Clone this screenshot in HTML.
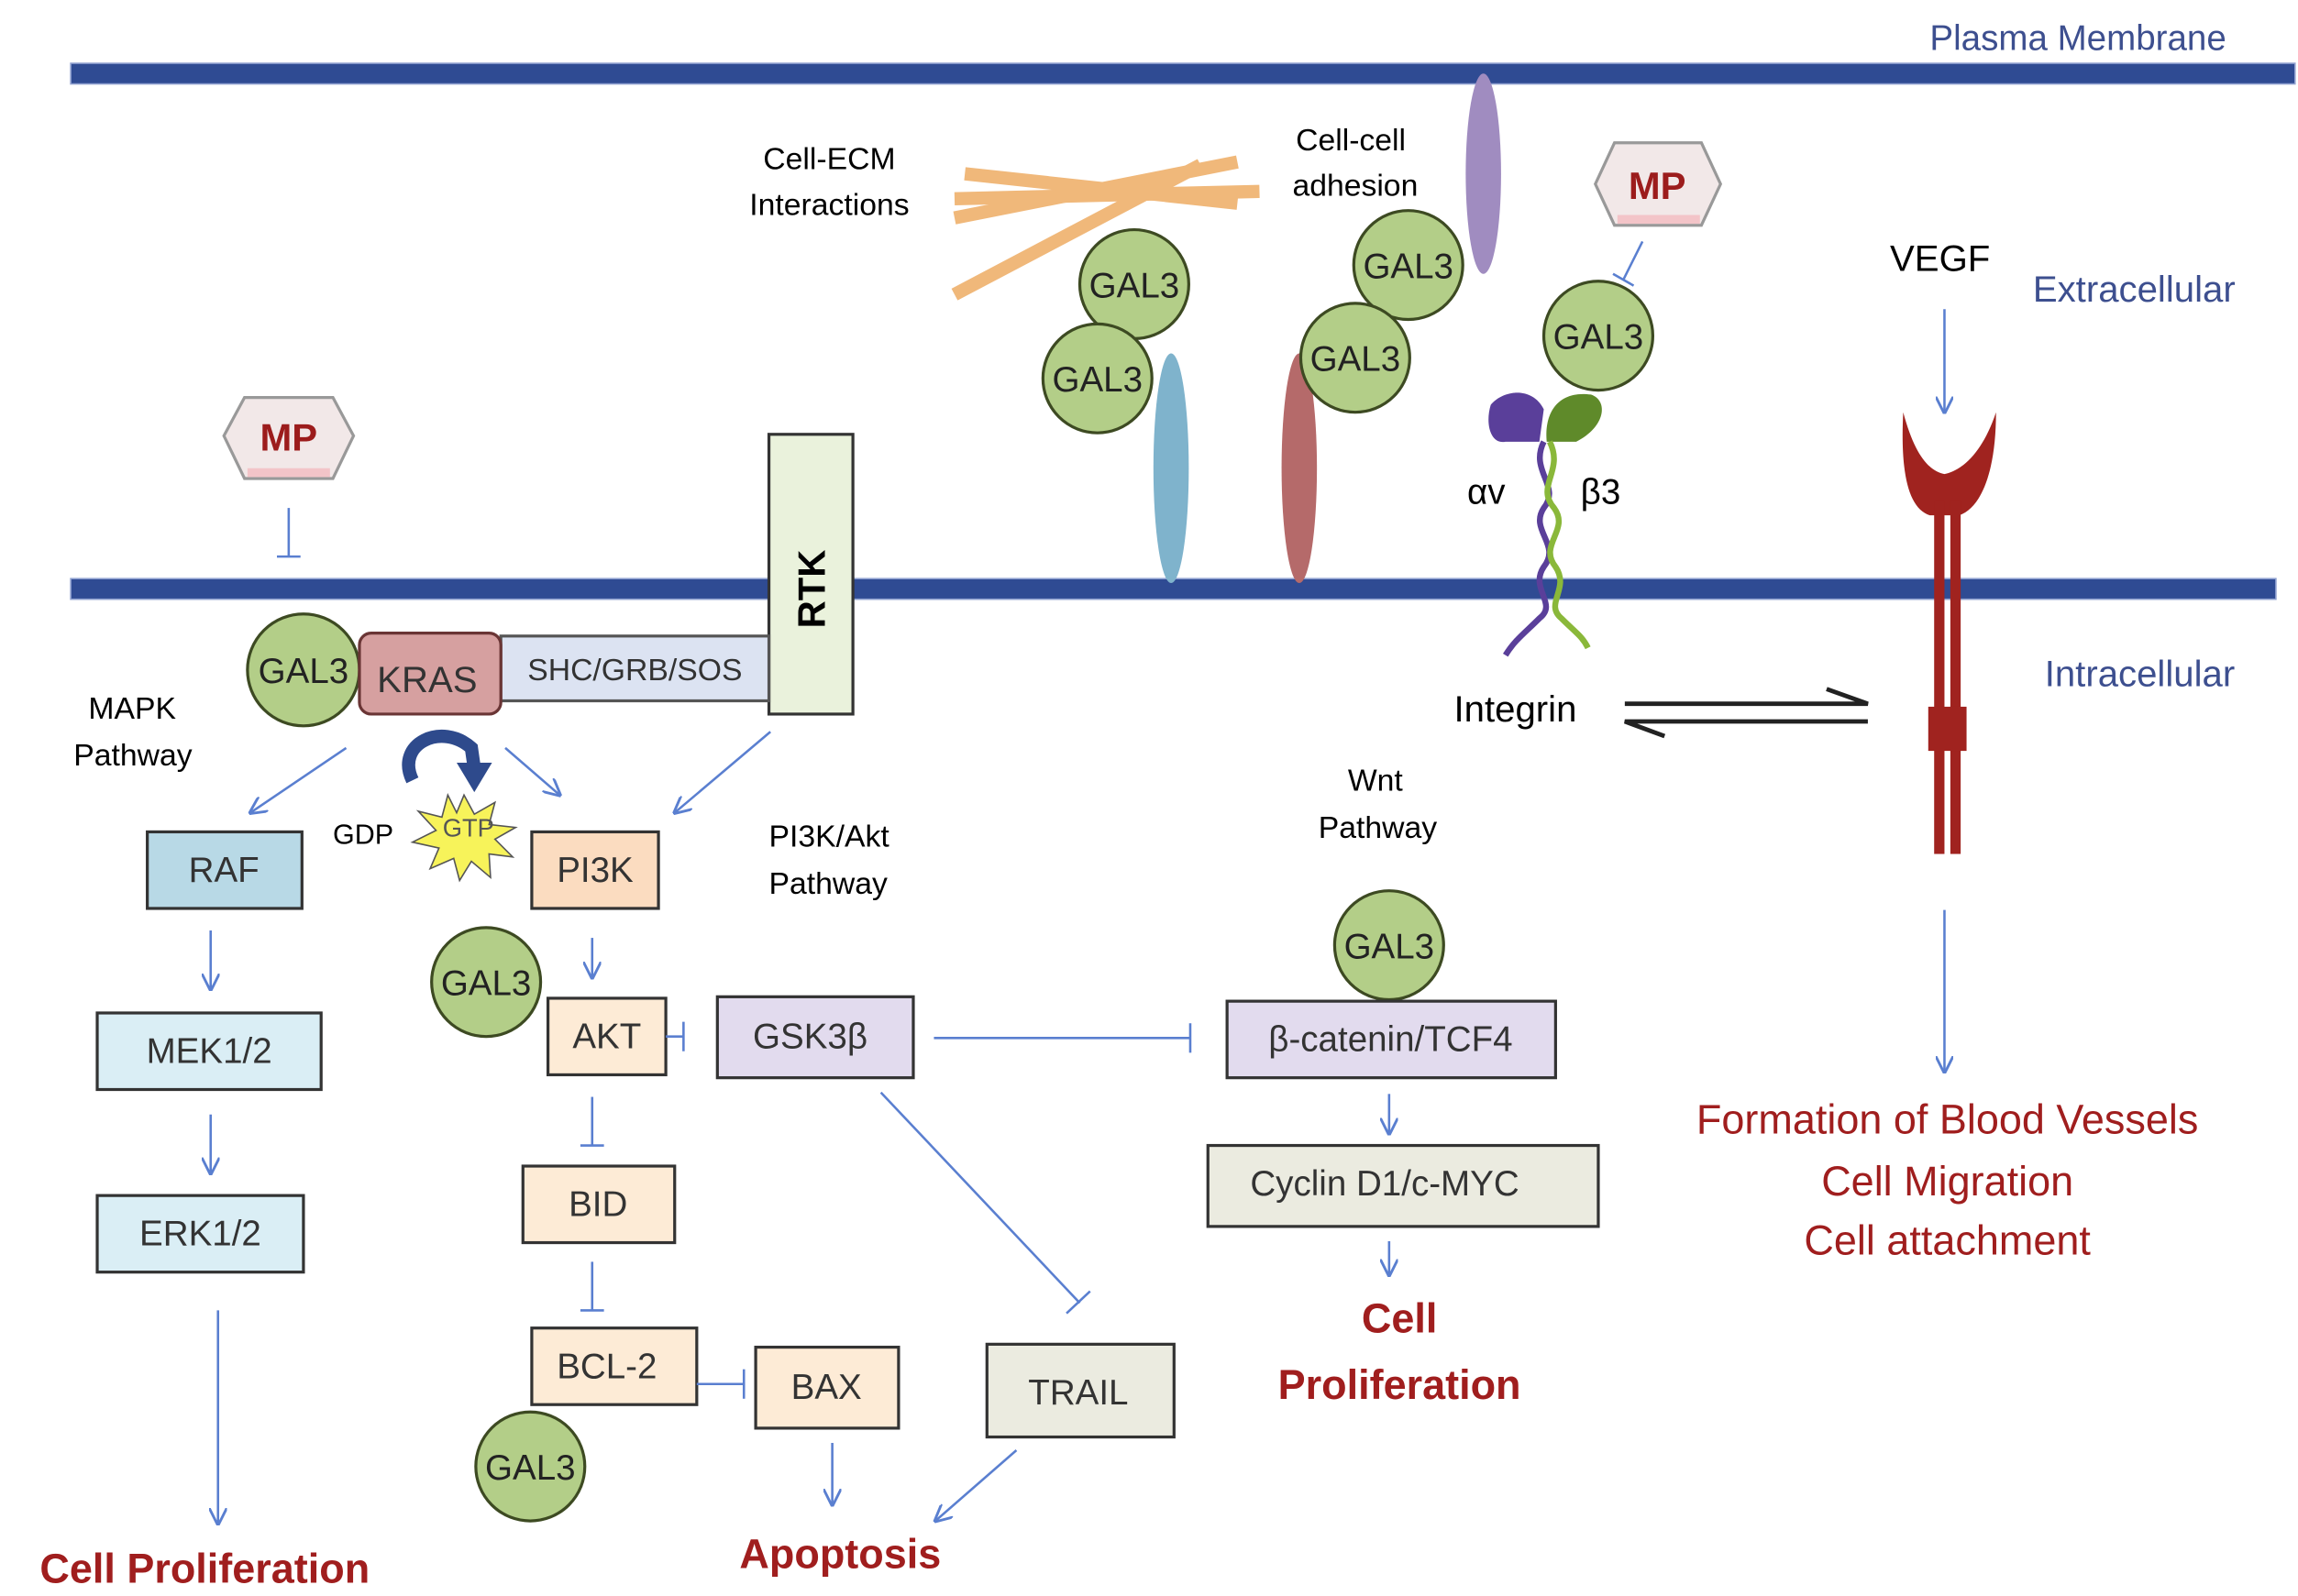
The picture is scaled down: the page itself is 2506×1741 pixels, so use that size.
<!DOCTYPE html>
<html><head><meta charset="utf-8"><style>
html,body{margin:0;padding:0;background:#fff;}
svg{display:block;}
text{font-family:"Liberation Sans",sans-serif;}
</style></head><body>
<svg width="2506" height="1741" viewBox="0 0 1560 1084" preserveAspectRatio="none" xmlns="http://www.w3.org/2000/svg">
<defs>
<marker id="ar" viewBox="0 0 10 10" refX="9" refY="5" markerWidth="12" markerHeight="12" markerUnits="userSpaceOnUse" orient="auto"><path d="M0,0 L10,5 L0,10" fill="none" stroke="#5a7fd0" stroke-width="1.5"/></marker>
</defs>
<!-- membranes -->
<rect x="48" y="43" width="1510" height="14" fill="#2f4b93" stroke="#8fa0d0" stroke-width="1"/>
<rect x="48" y="393" width="1497" height="14" fill="#2f4b93" stroke="#8fa0d0" stroke-width="1"/>
<text x="1310" y="34" font-size="24" fill="#3d4f8f">Plasma Membrane</text>
<text x="1380" y="205" font-size="25" fill="#3d4f8f">Extracellular</text>
<text x="1388" y="466" font-size="25" fill="#3d4f8f">Intracellular</text>

<!-- ECM fibers -->
<g stroke="#f0b87a" stroke-width="9" stroke-linecap="butt">
<line x1="648" y1="135" x2="855" y2="130"/>
<line x1="648" y1="148" x2="840" y2="110"/>
<line x1="655" y1="118" x2="840" y2="138"/>
<line x1="648" y1="200" x2="815" y2="112"/>
</g>
<text x="563" y="115" font-size="21" text-anchor="middle">Cell-ECM</text>
<text x="563" y="146" font-size="21" text-anchor="middle">Interactions</text>
<text x="917" y="102" font-size="21" text-anchor="middle">Cell-cell</text>
<text x="920" y="133" font-size="21" text-anchor="middle">adhesion</text>

<!-- ellipses -->
<ellipse cx="1007" cy="118" rx="12" ry="68" fill="#a08cc0"/>
<ellipse cx="795" cy="318" rx="12" ry="78" fill="#7fb3cc"/>
<ellipse cx="882" cy="318" rx="12" ry="78" fill="#b56a6a"/>

<!-- GAL3 circles -->
<g fill="#b3ce88" stroke="#3d4a22" stroke-width="2">
<circle cx="770" cy="193" r="37"/>
<circle cx="745" cy="257" r="37"/>
<circle cx="956" cy="180" r="37"/>
<circle cx="920" cy="243" r="37"/>
<circle cx="1085" cy="228" r="37"/>
<circle cx="206" cy="455" r="38"/>
<circle cx="330" cy="667" r="37"/>
<circle cx="360" cy="996" r="37"/>
<circle cx="943" cy="642" r="37"/>
</g>
<g font-size="24" fill="#222" text-anchor="middle">
<text x="770" y="202">GAL3</text>
<text x="745" y="266">GAL3</text>
<text x="956" y="189">GAL3</text>
<text x="920" y="252">GAL3</text>
<text x="1085" y="237">GAL3</text>
<text x="206" y="464">GAL3</text>
<text x="330" y="676">GAL3</text>
<text x="360" y="1005">GAL3</text>
<text x="943" y="651">GAL3</text>
</g>

<!-- MP hexagons -->
<g fill="#f2e8e8" stroke="#999" stroke-width="2">
<polygon points="166,270 226,270 240,296 226,325 166,325 152,296"/>
<polygon points="1096,97 1155,97 1168,125 1155,153 1096,153 1083,125"/>
</g>
<rect x="168" y="318" width="56" height="6" fill="#f3c4c8"/>
<rect x="1098" y="146" width="56" height="6" fill="#f3c4c8"/>
<text x="196" y="306" font-size="26" font-weight="bold" fill="#9c1c1c" text-anchor="middle">MP</text>
<text x="1125" y="135" font-size="26" font-weight="bold" fill="#9c1c1c" text-anchor="middle">MP</text>
<g stroke="#5a7fd0" stroke-width="1.6" fill="none">
<line x1="196" y1="345" x2="196" y2="378"/><line x1="188" y1="378" x2="204" y2="378"/>
<line x1="1115" y1="164" x2="1102" y2="190"/><line x1="1095" y1="186" x2="1109" y2="194"/>
</g>

<!-- integrin -->
<path d="M1048,278 C1040,262 1020,265 1012,275 C1008,288 1012,302 1022,300 L1045,300 Z" fill="#5a3f9a"/>
<path d="M1050,300 C1048,280 1058,265 1080,268 C1092,272 1090,290 1070,300 Z" fill="#5f8a2a"/>
<path d="M1048,300 C1038,320 1060,330 1048,345 C1038,360 1060,370 1048,385 C1038,400 1058,410 1045,420 C1035,430 1028,435 1022,445" fill="none" stroke="#5a3f9a" stroke-width="4"/>
<path d="M1052,300 C1062,320 1042,330 1055,345 C1066,360 1044,370 1056,385 C1066,400 1048,410 1060,420 C1070,430 1074,432 1078,440" fill="none" stroke="#8ab83a" stroke-width="4"/>
<text x="996" y="342" font-size="24">αv</text>
<text x="1073" y="342" font-size="24">β3</text>
<text x="987" y="490" font-size="25">Integrin</text>
<!-- harpoons -->
<g stroke="#222" stroke-width="3" fill="none">
<path d="M1103,478 L1268,478 L1240,468"/>
<path d="M1268,490 L1103,490 L1130,500"/>
</g>

<!-- VEGF receptor -->
<text x="1283" y="184" font-size="25">VEGF</text>
<line x1="1320" y1="210" x2="1320" y2="280" stroke="#5a7fd0" stroke-width="1.6" marker-end="url(#ar)"/>
<path d="M1292,280 C1300,310 1310,320 1320,322 C1330,320 1345,310 1355,280 C1355,320 1345,345 1330,350 L1310,350 C1295,345 1290,320 1292,280 Z" fill="#a0231f"/>
<rect x="1313" y="340" width="7" height="240" fill="#a0231f"/>
<rect x="1324" y="340" width="7" height="240" fill="#a0231f"/>
<rect x="1309" y="480" width="26" height="30" fill="#a0231f"/>
<line x1="1320" y1="618" x2="1320" y2="728" stroke="#5a7fd0" stroke-width="1.6" marker-end="url(#ar)"/>
<g font-size="28" fill="#a01e1e" text-anchor="middle">
<text x="1322" y="770">Formation of Blood  Vessels</text>
<text x="1322" y="812">Cell Migration</text>
<text x="1322" y="852">Cell attachment</text>
</g>

<!-- RTK complex -->
<rect x="522" y="295" width="57" height="190" fill="#eaf2dc" stroke="#333" stroke-width="2"/>
<text transform="translate(560,400) rotate(-90)" font-size="26" font-weight="bold" text-anchor="middle">RTK</text>
<rect x="340" y="432" width="182" height="44" fill="#dce3f2" stroke="#555" stroke-width="2"/>
<text x="431" y="462" font-size="21" fill="#333" text-anchor="middle">SHC/GRB/SOS</text>
<rect x="244" y="430" width="96" height="55" rx="8" fill="#d6a0a0" stroke="#6a3535" stroke-width="2"/>
<text x="290" y="470" font-size="25" fill="#333" text-anchor="middle">KRAS</text>
<text x="60" y="488" font-size="21">MAPK</text>
<text x="50" y="520" font-size="21">Pathway</text>

<g stroke="#5a7fd0" stroke-width="1.6" fill="none" marker-end="url(#ar)">
<line x1="235" y1="508" x2="170" y2="552"/>
<line x1="343" y1="508" x2="380" y2="540"/>
<line x1="523" y1="497" x2="458" y2="552"/>
<line x1="143" y1="632" x2="143" y2="672"/>
<line x1="143" y1="757" x2="143" y2="797"/>
<line x1="148" y1="890" x2="148" y2="1035"/>
<line x1="402" y1="637" x2="402" y2="664"/>
<line x1="565" y1="980" x2="565" y2="1022"/>
<line x1="690" y1="985" x2="635" y2="1033"/>
<line x1="943" y1="743" x2="943" y2="770"/>
<line x1="943" y1="843" x2="943" y2="866"/>
</g>
<!-- curved arrow -->
<path d="M280,530 C268,505 300,490 320,508 L322,522" fill="none" stroke="#2e4a8c" stroke-width="9"/>
<polygon points="310,518 334,518 322,538" fill="#2e4a8c"/>
<!-- GTP star -->
<polygon points="315,540 322,553 336,545 332,560 350,562 336,570 348,582 332,580 333,596 320,585 312,598 308,583 292,590 298,576 280,572 296,564 284,551 300,555 304,540 310,552" fill="#f7f35a" stroke="#555" stroke-width="1"/>
<text x="318" y="568" font-size="17" fill="#555" text-anchor="middle">GTP</text>
<text x="226" y="573" font-size="19">GDP</text>

<!-- boxes -->
<g stroke="#333" stroke-width="2">
<rect x="100" y="565" width="105" height="52" fill="#b8d9e6"/>
<rect x="66" y="688" width="152" height="52" fill="#daeef5"/>
<rect x="66" y="812" width="140" height="52" fill="#daeef5"/>
<rect x="361" y="565" width="86" height="52" fill="#fbdcc0"/>
<rect x="372" y="678" width="80" height="52" fill="#fdebd6"/>
<rect x="487" y="677" width="133" height="55" fill="#e2dbee"/>
<rect x="833" y="680" width="223" height="52" fill="#e2dbee"/>
<rect x="355" y="792" width="103" height="52" fill="#fdebd6"/>
<rect x="361" y="902" width="112" height="52" fill="#fdebd6"/>
<rect x="513" y="915" width="97" height="55" fill="#fdebd6"/>
<rect x="670" y="913" width="127" height="63" fill="#ebebe0"/>
<rect x="820" y="778" width="265" height="55" fill="#ebebe0"/>
</g>
<g font-size="24" fill="#333" text-anchor="middle">
<text x="152" y="599">RAF</text>
<text x="142" y="722">MEK1/2</text>
<text x="136" y="846">ERK1/2</text>
<text x="404" y="599">PI3K</text>
<text x="412" y="712">AKT</text>
<text x="550" y="712">GSK3β</text>
<text x="944" y="714">β-catenin/TCF4</text>
<text x="406" y="826">BID</text>
<text x="412" y="936">BCL-2</text>
<text x="561" y="950">BAX</text>
<text x="732" y="954">TRAIL</text>
<text x="940" y="812">Cyclin D1/c-MYC</text>
</g>
<text x="522" y="575" font-size="21">PI3K/Akt</text>
<text x="522" y="607" font-size="21">Pathway</text>
<text x="915" y="537" font-size="21">Wnt</text>
<text x="895" y="569" font-size="21">Pathway</text>

<!-- inhibition lines -->
<g stroke="#5a7fd0" stroke-width="1.6" fill="none">
<line x1="452" y1="704" x2="464" y2="704"/><line x1="464" y1="694" x2="464" y2="714"/>
<line x1="634" y1="705" x2="808" y2="705"/><line x1="808" y1="695" x2="808" y2="715"/>
<line x1="598" y1="742" x2="733" y2="885"/><line x1="724" y1="892" x2="740" y2="877"/>
<line x1="402" y1="745" x2="402" y2="778"/><line x1="394" y1="778" x2="410" y2="778"/>
<line x1="402" y1="857" x2="402" y2="890"/><line x1="394" y1="890" x2="410" y2="890"/>
<line x1="473" y1="940" x2="505" y2="940"/><line x1="505" y1="930" x2="505" y2="950"/>
</g>

<g font-size="28" font-weight="bold" fill="#a01e1e">
<text x="27" y="1075">Cell Proliferation</text>
<text x="502" y="1065">Apoptosis</text>
<text x="950" y="905" text-anchor="middle">Cell</text>
<text x="950" y="950" text-anchor="middle">Proliferation</text>
</g>
</svg>
</body></html>
